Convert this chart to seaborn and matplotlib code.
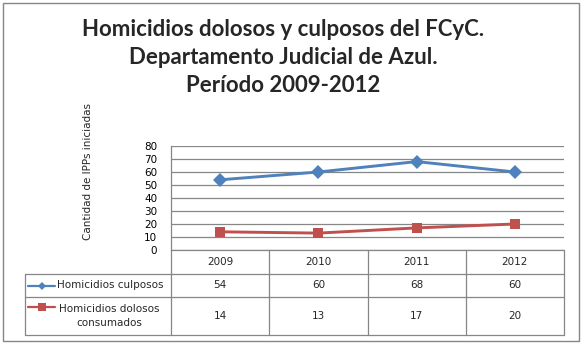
import matplotlib
matplotlib.use("Agg")
import matplotlib.pyplot as plt
import seaborn as sns
import pandas as pd
from matplotlib.patches import Rectangle
from matplotlib.lines import Line2D
from matplotlib.transforms import blended_transform_factory

# ---- data ----
years = ["2009", "2010", "2011", "2012"]
culposos = [54, 60, 68, 60]
dolosos = [14, 13, 17, 20]
series_names = ["Homicidios culposos", "Homicidios dolosos\nconsumados"]
title_lines = ["Homicidios dolosos y culposos del FCyC.",
               "Departamento Judicial de Azul.",
               "Período 2009-2012"]
ylabel = "Cantidad de IPPs iniciadas"
yticks = [0, 10, 20, 30, 40, 50, 60, 70, 80]

colors = ["#4F81BD", "#C0504D"]
markers = ["D", "s"]
grid_c = "#868686"

W, H = 583, 347
sns.set_theme(style="white")
plt.rcParams["font.family"] = ["DejaVu Sans"]

fig = plt.figure(figsize=(W / 100, H / 100), dpi=100)

def fx(px):
    return px / W

def fy(py):
    return 1 - py / H

# plot area
L, R, T, B = 171, 564, 146, 250
ax = fig.add_axes([fx(L), fy(B), fx(R - L), (B - T) / H])

rows = []
for name, vals in zip(series_names, [culposos, dolosos]):
    for i, v in enumerate(vals):
        rows.append({"pos": i, "value": v, "serie": name})
df = pd.DataFrame(rows)

sns.lineplot(data=df, x="pos", y="value", hue="serie", style="serie",
             palette=dict(zip(series_names, colors)),
             markers=dict(zip(series_names, markers)),
             dashes=False, linewidth=2.1, markersize=6.8,
             markeredgewidth=0, legend=False, ax=ax)

ax.set_xlim(-0.5, len(years) - 0.5)
ax.set_ylim(0, 80)
ax.set_yticks(yticks)
ax.set_xticks([])
ax.set_xlabel("")
ax.set_ylabel("")
ax.tick_params(axis="y", length=0, pad=10, labelsize=7.5, colors="black")
for lab in ax.get_yticklabels():
    lab.set_color("black")
ax.yaxis.grid(True, color=grid_c, linewidth=0.9)
ax.set_axisbelow(True)
for s in ["top", "right", "bottom"]:
    ax.spines[s].set_visible(False)
ax.spines["left"].set_color(grid_c)
ax.spines["left"].set_linewidth(0.9)

# ---- data table ----
trans = blended_transform_factory(ax.transData, fig.transFigure)
tl, y_head, y_r1, y_r2, y_bot = 25, 250, 274, 297, 335
col_edges = [i - 0.5 for i in range(len(years) + 1)]

def hline(x0px, x1px, ypx):
    fig.add_artist(Line2D([fx(x0px), fx(x1px)], [fy(ypx), fy(ypx)],
                          color=grid_c, linewidth=0.9))

def vline(xpx, y0, y1):
    fig.add_artist(Line2D([fx(xpx), fx(xpx)], [fy(y0), fy(y1)],
                          color=grid_c, linewidth=0.9))

hline(L, R, y_head)
hline(tl, R, y_r1)
hline(tl, R, y_r2)
hline(tl, R, y_bot)
vline(tl, y_r1, y_bot)
for e in col_edges:
    xpx = L + (e + 0.5) / len(years) * (R - L)
    vline(xpx, y_head, y_bot)

for i, yr in enumerate(years):
    fig.text(i, fy((y_head + y_r1) / 2), yr, transform=trans,
             ha="center", va="center", fontsize=7.5)
    fig.text(i, fy((y_r1 + y_r2) / 2), str(culposos[i]), transform=trans,
             ha="center", va="center", fontsize=7.5)
    fig.text(i, fy((y_r2 + y_bot) / 2), str(dolosos[i]), transform=trans,
             ha="center", va="center", fontsize=7.5)

# legend keys in table
key_y = [(y_r1 + y_r2) / 2, y_r2 + 10]
for c, m, ky in zip(colors, markers, key_y):
    fig.add_artist(Line2D([fx(28), fx(55)], [fy(ky), fy(ky)], color=c,
                          linewidth=1.6))
    fig.add_artist(Line2D([fx(41.5)], [fy(ky)], color=c, marker=m,
                          markersize=4.5 if m == "D" else 6, markeredgewidth=0,
                          linestyle="none"))
fig.text(fx(57), fy(key_y[0]), series_names[0], ha="left", va="center",
         fontsize=7.5)
fig.text(fx(109), fy((y_r2 + y_bot) / 2), series_names[1], ha="center",
         va="center", fontsize=7.5, multialignment="center", linespacing=1.5)

# y label
fig.text(fx(88), fy(172), ylabel, rotation=90, ha="center", va="center",
         fontsize=7.5)

# title
for line, ypx in zip(title_lines, [30, 57, 85]):
    fig.text(fx(283), fy(ypx), line, ha="center", va="center",
             fontsize=16, fontweight="bold", family=["Lato", "DejaVu Sans"])

# outer border
fig.add_artist(Rectangle((fx(3), fy(341)), fx(576), (338) / H,
                         transform=fig.transFigure, fill=False,
                         edgecolor=grid_c, linewidth=1.0))

fig.savefig("out.png", dpi=100)
